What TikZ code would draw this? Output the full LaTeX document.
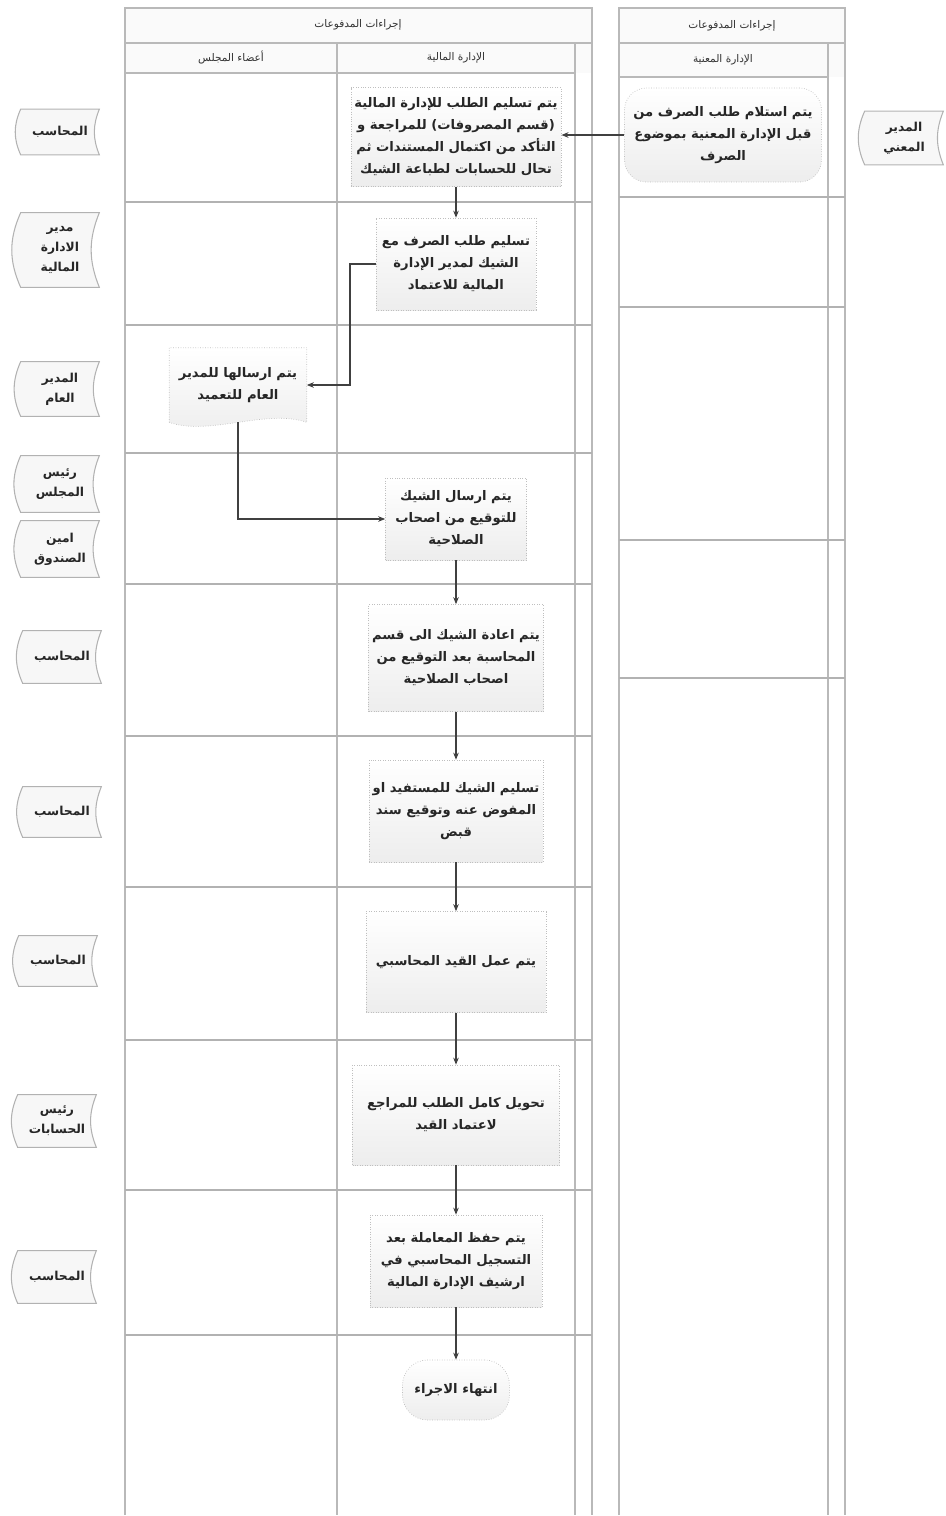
\documentclass[tikz,border=0pt]{standalone}
\usepackage{fontspec}
\newfontfamily\arabicfont[Script=Arabic]{DejaVu Sans}
\TeXXeTstate=1
\usetikzlibrary{arrows.meta,calc}
\pgfdeclarelayer{background}
\pgfsetlayers{background,main}

\newcommand{\ar}[1]{{\arabicfont\beginR #1\endR}}
% side label outline: convex left edge, concave right edge
\newcommand{\roleshape}[1]{%
  \begin{pgfonlayer}{background}
    \draw[roleline] (#1.north west) to[bend right=24] (#1.south west)
      -- (#1.south east) to[bend left=22] (#1.north east) -- cycle;
  \end{pgfonlayer}}

\tikzset{
  poolline/.style={draw=gray!55, line width=0.8pt},
  phase/.style={draw=gray!60, line width=0.7pt},
  hdr/.style={font=\arabicfont\fontsize{6}{8}\selectfont, text=black!80},
  stepbox/.style={draw=gray!50, densely dotted, top color=white, bottom color=gray!14,
    align=center, inner sep=2pt, text=black!85,
    font=\arabicfont\bfseries\fontsize{7.5}{12.5}\selectfont},
  docbox/.style={align=center, inner sep=2pt, text=black!85,
    font=\arabicfont\bfseries\fontsize{7.5}{12.5}\selectfont},
  termbox/.style={stepbox, rounded corners=0.44cm},
  role/.style={align=center, inner sep=1pt, minimum width=1.56cm, text=black!85,
    font=\arabicfont\bfseries\fontsize{7}{11.5}\selectfont},
  roleline/.style={draw=gray!60, line width=0.6pt, fill=gray!6},
  flow/.style={->, draw=black!75, line width=0.6pt}
}

\begin{document}
\begin{tikzpicture}[x=0.02cm, y=-0.02cm, >={Stealth[length=4pt,width=3.2pt]}]

  % --- frame values (pixels of the sheet) ---
  \def\poolL{125}
  \def\laneM{337}
  \def\laneR{575}
  \def\poolR{592}
  \def\rpoolL{619}
  \def\rlaneR{828}
  \def\rpoolR{845}
  \def\bottom{1515}

  \useasboundingbox (0,0) rectangle (946,1516);

  % 1. pools and lanes
  \fill[gray!4] (\poolL,8) rectangle (\poolR,73);
  \fill[gray!4] (\rpoolL,8) rectangle (\rpoolR,77);
  \draw[poolline] (\poolL,\bottom) -- (\poolL,8) -- (\poolR,8) -- (\poolR,\bottom);
  \draw[poolline] (\poolL,43) -- (\poolR,43);
  \draw[poolline] (\poolL,73) -- (\laneR,73);
  \draw[poolline] (\laneM,43) -- (\laneM,\bottom);
  \draw[poolline] (\laneR,43) -- (\laneR,\bottom);

  \draw[poolline] (\rpoolL,\bottom) -- (\rpoolL,8) -- (\rpoolR,8) -- (\rpoolR,\bottom);
  \draw[poolline] (\rpoolL,43) -- (\rpoolR,43);
  \draw[poolline] (\rpoolL,77) -- (\rlaneR,77);
  \draw[poolline] (\rlaneR,43) -- (\rlaneR,\bottom);

  % phase separators
  \foreach \y in {202,325,453,584,736,887,1040,1190,1335}
    \draw[phase] (\poolL,\y) -- (\poolR,\y);
  \foreach \y in {197,307,540,678}
    \draw[phase] (\rpoolL,\y) -- (\rpoolR,\y);

  % 2. headers
  \node[hdr] (hpool)  at (358,25)  {\ar{إجراءات المدفوعات}};
  \node[hdr] (hboard) at (231,58)  {\ar{أعضاء المجلس}};
  \node[hdr] (hfin)   at (456,58)  {\ar{الإدارة المالية}};
  \node[hdr] (hrpool) at (732,26)  {\ar{إجراءات المدفوعات}};
  \node[hdr] (hdept)  at (723,60)  {\ar{الإدارة المعنية}};

  % 3. steps
  \node[termbox, minimum width=3.94cm, minimum height=1.88cm] (b2) at (723,135)
    {\ar{يتم استلام طلب الصرف من}\\\ar{قبل الإدارة المعنية بموضوع}\\\ar{الصرف}};
  \node[stepbox, minimum width=4.02cm, minimum height=1.98cm] (b1) at (456,137)
    {\ar{يتم تسليم الطلب للإدارة المالية}\\\ar{(قسم المصروفات) للمراجعة و}\\\ar{التأكد من اكتمال المستندات ثم}\\\ar{تحال للحسابات لطباعة الشيك}};
  \node[stepbox, minimum width=3.2cm, minimum height=1.84cm] (b3) at (456,264)
    {\ar{تسليم طلب الصرف مع}\\\ar{الشيك لمدير الإدارة}\\\ar{المالية للاعتماد}};
  \node[docbox, minimum width=2.74cm, minimum height=1.48cm] (b4) at (238,385)
    {\ar{يتم ارسالها للمدير}\\\ar{العام للتعميد}};
  \node[stepbox, minimum width=2.82cm, minimum height=1.64cm] (b5) at (456,519)
    {\ar{يتم ارسال الشيك}\\\ar{للتوقيع من اصحاب}\\\ar{الصلاحية}};
  \node[stepbox, minimum width=3.46cm, minimum height=2.14cm] (b6) at (456,658)
    {\ar{يتم اعادة الشيك الى قسم}\\\ar{المحاسبة بعد التوقيع من}\\\ar{اصحاب الصلاحية}};
  \node[stepbox, minimum width=3.48cm, minimum height=2.04cm] (b7) at (456,811)
    {\ar{تسليم الشيك للمستفيد او}\\\ar{المفوض عنه وتوقيع سند}\\\ar{قبض}};
  \node[stepbox, minimum width=3.6cm, minimum height=2.02cm] (b8) at (456,962)
    {\ar{يتم عمل القيد المحاسبي}};
  \node[stepbox, minimum width=4.14cm, minimum height=2cm] (b9) at (456,1115)
    {\ar{تحويل كامل الطلب للمراجع}\\\ar{لاعتماد القيد}};
  \node[stepbox, minimum width=3.44cm, minimum height=1.84cm] (b10) at (456,1261)
    {\ar{يتم حفظ المعاملة بعد}\\\ar{التسجيل المحاسبي في}\\\ar{ارشيف الإدارة المالية}};
  \node[stepbox, rounded corners=0.5cm, minimum width=2.14cm, minimum height=1.2cm] (endp) at (456,1390)
    {\ar{انتهاء الاجراء}};

  % document outline of b4 (wavy bottom)
  \begin{pgfonlayer}{background}
    \draw[draw=gray!50, densely dotted, top color=white, bottom color=gray!14]
      (b4.south west) -- (b4.north west) -- (b4.north east) -- (b4.south east)
      .. controls ($(b4.south east)+(-40,-14)$) and ($(b4.south west)+(40,14)$) .. (b4.south west);
  \end{pgfonlayer}

  % 4. connectors
  \coordinate (k1) at (350,264);
  \draw[flow] (b2.west) -- (b2.west -| b1.east);
  \draw[flow] (b1) -- (b3);
  \draw[flow] (b3.west) -- (k1) |- (b4.east);
  \draw[flow] (b4.south) |- (b5.west);
  \draw[flow] (b5) -- (b6);
  \draw[flow] (b6) -- (b7);
  \draw[flow] (b7) -- (b8);
  \draw[flow] (b8) -- (b9);
  \draw[flow] (b9) -- (b10);
  \draw[flow] (b10) -- (endp);

  % 5. responsible persons
  \node[role, minimum height=0.9cm]  (r1)  at (60,132)  {\ar{المحاسب}};
  \node[role, minimum height=1.48cm] (r2)  at (60,250)  {\ar{مدير}\\\ar{الادارة}\\\ar{المالية}};
  \node[role, minimum height=1.08cm] (r3)  at (60,389)  {\ar{المدير}\\\ar{العام}};
  \node[role, minimum height=1.12cm] (r4)  at (60,484)  {\ar{رئيس}\\\ar{المجلس}};
  \node[role, minimum height=1.12cm] (r5)  at (60,549)  {\ar{امين}\\\ar{الصندوق}};
  \node[role, minimum height=1.04cm] (r6)  at (62,657)  {\ar{المحاسب}};
  \node[role, minimum height=1cm]    (r7)  at (62,812)  {\ar{المحاسب}};
  \node[role, minimum height=1cm]    (r8)  at (58,961)  {\ar{المحاسب}};
  \node[role, minimum height=1.04cm] (r9)  at (57,1121) {\ar{رئيس}\\\ar{الحسابات}};
  \node[role, minimum height=1.04cm] (r10) at (57,1277) {\ar{المحاسب}};
  \node[role, minimum height=1.06cm] (r11) at (904,138) {\ar{المدير}\\\ar{المعني}};
  \roleshape{r1}\roleshape{r2}\roleshape{r3}\roleshape{r4}\roleshape{r5}\roleshape{r6}
  \roleshape{r7}\roleshape{r8}\roleshape{r9}\roleshape{r10}\roleshape{r11}

\end{tikzpicture}
\end{document}
